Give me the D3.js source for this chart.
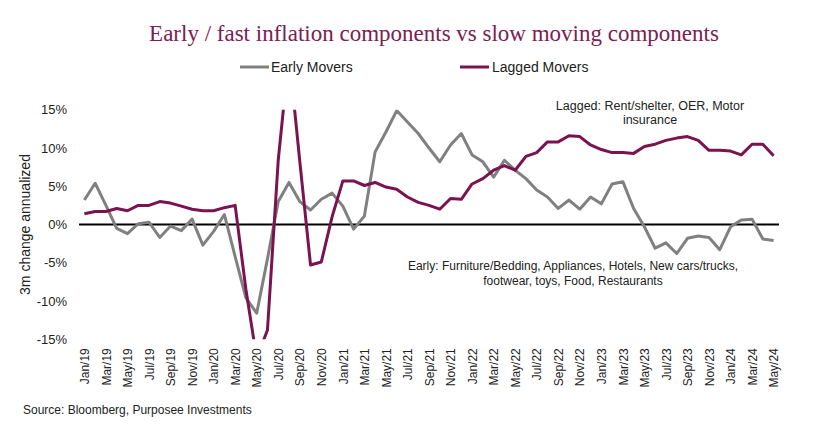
<!DOCTYPE html>
<html>
<head>
<meta charset="utf-8">
<script src="https://cdn.jsdelivr.net/npm/d3@7"></script>
<style>
  html, body { margin: 0; padding: 0; background: #ffffff; }
  svg { display: block; }
</style>
</head>
<body>
<svg id="chart" width="835" height="437"></svg>
<script>
// ---- data ----
const months = ["Jan/19","Feb/19","Mar/19","Apr/19","May/19","Jun/19","Jul/19","Aug/19","Sep/19","Oct/19","Nov/19","Dec/19",
  "Jan/20","Feb/20","Mar/20","Apr/20","May/20","Jun/20","Jul/20","Aug/20","Sep/20","Oct/20","Nov/20","Dec/20",
  "Jan/21","Feb/21","Mar/21","Apr/21","May/21","Jun/21","Jul/21","Aug/21","Sep/21","Oct/21","Nov/21","Dec/21",
  "Jan/22","Feb/22","Mar/22","Apr/22","May/22","Jun/22","Jul/22","Aug/22","Sep/22","Oct/22","Nov/22","Dec/22",
  "Jan/23","Feb/23","Mar/23","Apr/23","May/23","Jun/23","Jul/23","Aug/23","Sep/23","Oct/23","Nov/23","Dec/23",
  "Jan/24","Feb/24","Mar/24","Apr/24","May/24"];

const earlyMovers = [3.2, 5.4, 2.5, -0.5, -1.2, 0.1, 0.3, -1.7, -0.2, -0.8,
  0.7, -2.7, -0.9, 1.3, -4.2, -9.6, -11.6, -4.5, 3.0, 5.5,
  3.0, 1.9, 3.3, 4.1, 2.4, -0.6, 1.1, 9.5, 12.1, 14.9,
  13.4, 11.9, 10.0, 8.2, 10.4, 11.9, 9.1, 8.2, 6.2, 8.4,
  7.1, 6.0, 4.5, 3.6, 2.1, 3.2, 2.0, 3.6, 2.7, 5.3,
  5.6, 2.1, -0.3, -3.1, -2.4, -3.8, -1.8, -1.5, -1.7, -3.3,
  -0.3, 0.6, 0.7, -1.9, -2.1];

const laggedMovers = [1.4, 1.7, 1.7, 2.1, 1.8, 2.5, 2.5, 3.0, 2.8, 2.4,
  2.0, 1.8, 1.8, 2.2, 2.5, -8.5, -17.5, -13.8, 8.4, 22.3,
  8.3, -5.3, -4.9, 1.0, 5.7, 5.7, 5.1, 5.5, 4.9, 4.6,
  3.6, 2.9, 2.5, 2.0, 3.4, 3.3, 5.3, 6.0, 7.1, 7.7,
  7.1, 8.9, 9.4, 10.8, 10.8, 11.6, 11.5, 10.4, 9.8, 9.4,
  9.4, 9.3, 10.2, 10.5, 11.0, 11.3, 11.5, 11.0, 9.7, 9.7,
  9.6, 9.1, 10.5, 10.5, 9.0];

const yTicks = [-15, -10, -5, 0, 5, 10, 15];
const xTickLabels = months.filter((m, i) => i % 2 === 0);

const seriesNames = ["Early Movers", "Lagged Movers"];
const seriesColors = ["#808080", "#7b1350"];

const titleText = "Early / fast inflation components vs slow moving components";
const yAxisTitle = "3m change annualized";
const noteLagged = ["Lagged: Rent/shelter, OER, Motor", "insurance"];
const noteEarly = ["Early: Furniture/Bedding, Appliances, Hotels, New cars/trucks,", "footwear, toys, Food, Restaurants"];
const sourceText = "Source: Bloomberg, Purposee Investments";

// ---- layout ----
const svg = d3.select("#chart");
const pLeft = 79, pRight = 779, pTop = 109.8, pBottom = 339.2;
const sans = "'Liberation Sans', Arial, sans-serif";

const x = d3.scalePoint().domain(months).range([pLeft, pRight]).padding(0.5);
const y = d3.scaleLinear().domain([-15, 15]).range([pBottom, pTop]);

svg.append("defs").append("clipPath").attr("id", "plotclip")
  .append("rect").attr("x", pLeft).attr("y", pTop).attr("width", pRight - pLeft).attr("height", pBottom - pTop);

// Title
svg.append("text")
  .attr("x", 434).attr("y", 41)
  .attr("text-anchor", "middle")
  .attr("font-family", "'Liberation Serif', 'DejaVu Serif', serif")
  .attr("font-size", 23)
  .attr("fill", "#7a2151")
  .text(titleText);

// Legend
const legendPos = [{lx: 240, tx: 271}, {lx: 460, tx: 492}];
seriesNames.forEach((name, i) => {
  const g = svg.append("g");
  g.append("line").attr("x1", legendPos[i].lx).attr("x2", legendPos[i].lx + 29)
    .attr("y1", 67).attr("y2", 67)
    .attr("stroke", seriesColors[i]).attr("stroke-width", 3);
  g.append("text").attr("x", legendPos[i].tx).attr("y", 72)
    .attr("font-family", sans).attr("font-size", 14).attr("fill", "#222")
    .text(name);
});

// Y axis
const yAxis = svg.append("g").attr("transform", `translate(${pLeft},0)`)
  .call(d3.axisLeft(y).tickValues(yTicks).tickFormat(d => d + "%").tickSize(0).tickPadding(12));
yAxis.select(".domain").remove();
yAxis.selectAll("text").attr("font-family", sans).attr("font-size", 13).attr("fill", "#222");

svg.append("text")
  .attr("transform", `translate(30,${(pTop + pBottom) / 2}) rotate(-90)`)
  .attr("text-anchor", "middle")
  .attr("font-family", sans).attr("font-size", 14).attr("fill", "#222")
  .text(yAxisTitle);

// X axis
const xAxis = svg.append("g").attr("transform", `translate(0,${pBottom + 6})`)
  .call(d3.axisBottom(x).tickValues(xTickLabels).tickSize(0).tickPadding(0));
xAxis.select(".domain").remove();
xAxis.selectAll("text")
  .attr("font-family", sans).attr("font-size", 12).attr("fill", "#222")
  .attr("text-anchor", "end")
  .attr("transform", "rotate(-90)")
  .attr("x", -3).attr("y", 0).attr("dy", "0.35em");

// Zero line
svg.append("line")
  .attr("x1", pLeft).attr("x2", pRight)
  .attr("y1", y(0)).attr("y2", y(0))
  .attr("stroke", "#000").attr("stroke-width", 2);

// Lines
const line = d3.line().x((d, i) => x(months[i])).y(d => y(d));
const plot = svg.append("g").attr("clip-path", "url(#plotclip)");
[earlyMovers, laggedMovers].forEach((s, i) => {
  plot.append("path").datum(s)
    .attr("d", line)
    .attr("fill", "none")
    .attr("stroke", seriesColors[i])
    .attr("stroke-width", 3)
    .attr("stroke-linejoin", "round");
});

// Annotations
noteLagged.forEach((t, i) => {
  svg.append("text").attr("x", 650).attr("y", 110 + i * 14)
    .attr("text-anchor", "middle")
    .attr("font-family", sans).attr("font-size", 12.5).attr("fill", "#222")
    .text(t);
});
noteEarly.forEach((t, i) => {
  svg.append("text").attr("x", 573).attr("y", 270 + i * 15)
    .attr("text-anchor", "middle")
    .attr("font-family", sans).attr("font-size", 12).attr("fill", "#222")
    .text(t);
});

// Source
svg.append("text").attr("x", 23).attr("y", 414)
  .attr("font-family", sans).attr("font-size", 12).attr("fill", "#222")
  .text(sourceText);
</script>
</body>
</html>
